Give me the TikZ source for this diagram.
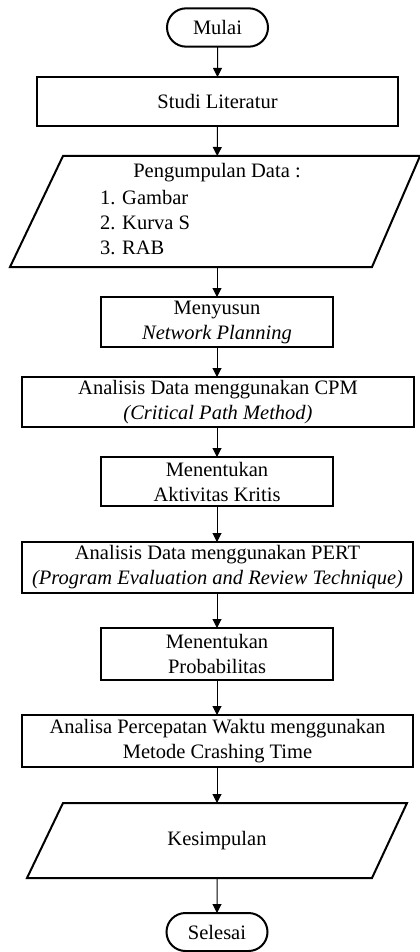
\documentclass[tikz,border=0pt]{standalone}
\usepackage{fontspec}
\setmainfont{Liberation Serif}
\usetikzlibrary{arrows.meta,shapes.misc}
\begin{document}
\begin{tikzpicture}[x=0.6pt,y=-0.6pt,
  every node/.style={font=\fontsize{12.3}{15}\selectfont, inner sep=0pt, outer sep=0pt},
  procbox/.style={draw, line width=1.7pt, align=center, minimum height=#1},
  procbox/.default=30pt,
  term/.style={draw, rounded rectangle, line width=1.2pt, minimum width=60.6pt, minimum height=23pt},
  io/.style={line width=1.2pt, line join=miter},
  anchorbox/.style={minimum width=20pt, minimum height=#1},
  flow/.style={line width=0.6pt, -{Triangle[length=5.4pt,width=5.4pt]}}
]
\useasboundingbox (0,0) rectangle (420,952);

\node[term] (mulai) at (217.5,27.5) {Mulai};
\node[procbox=29.4pt, minimum width=216.6pt] (studi) at (217.5,101.5) {Studi Literatur};

% Pengumpulan data (parallelogram)
\draw[io] (63,156) -- (420,156) -- (372,267) -- (10,267) -- cycle;
\node[anchorbox=66.6pt] (data) at (217,211.5) {};
\node (dh) at (217,173) {Pengumpulan Data :};
\node[anchor=west] (d1) at (100,198) {1. Gambar};
\node[anchor=west] (d2) at (100,223) {2. Kurva S};
\node[anchor=west] (d3) at (100,248) {3. RAB};

\node[procbox, minimum width=139.2pt] (nwp) at (217,322) {Menyusun\\\textit{Network Planning}};
\node[procbox, minimum width=235.2pt] (cpm) at (218,402) {Analisis Data menggunakan CPM\\\textit{(Critical Path Method)}};
\node[procbox=29.4pt, minimum width=139.2pt] (kritis) at (217,481.5) {Menentukan\\Aktivitas Kritis};
\node[procbox=30.6pt, minimum width=234.6pt] (pert) at (217.5,567.5) {Analisis Data menggunakan PERT\\\textit{(Program Evaluation and Review Technique)}};
\node[procbox=31.2pt, minimum width=139.2pt] (prob) at (217,654) {Menentukan\\Probabilitas};
\node[procbox=31.2pt, minimum width=234.6pt] (crash) at (217.5,741) {Analisa Percepatan Waktu menggunakan\\Metode Crashing Time};

% Kesimpulan (parallelogram)
\draw[io] (63,803) -- (407,803) -- (372,878) -- (27,878) -- cycle;
\node[anchorbox=45pt] (kes) at (217,840.5) {Kesimpulan};

\node[term, minimum height=22.8pt] (selesai) at (217,932) {Selesai};

\draw[flow] (mulai) -- (studi);
\draw[flow] (studi) -- (data);
\draw[flow] (data) -- (nwp);
\draw[flow] (nwp) -- (nwp |- cpm.north);
\draw[flow] (cpm.south -| kritis) -- (kritis);
\draw[flow] (kritis) -- (kritis |- pert.north);
\draw[flow] (pert.south -| prob) -- (prob);
\draw[flow] (prob) -- (prob |- crash.north);
\draw[flow] (crash.south -| kes) -- (kes);
\draw[flow] (kes) -- (selesai);
\end{tikzpicture}
\end{document}
